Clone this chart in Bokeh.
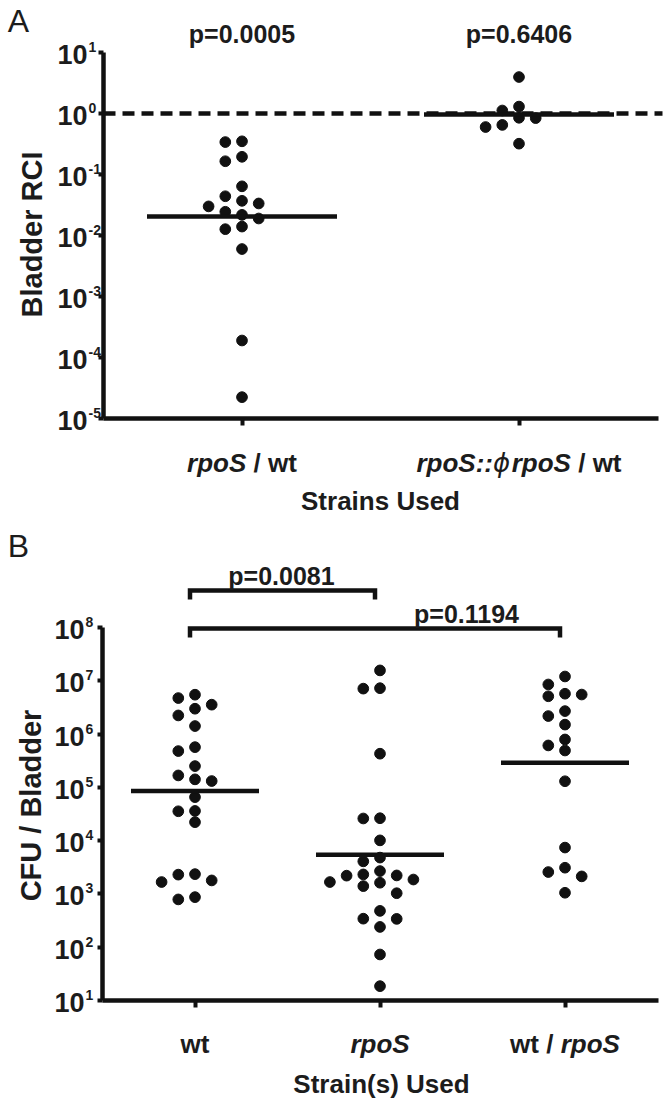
import math
from bokeh.plotting import figure
from bokeh.models import Range1d, FixedTicker, Label
from bokeh.layouts import column
from bokeh.embed import file_html
from bokeh.resources import INLINE

# ---------------- data ----------------
A_categories = ["rpoS / wt", "rpoS::\u03d5rpoS / wt"]
A_tick_labels = [
    [("rpoS", "bold italic"), (" / wt", "bold")],
    [("rpoS::", "bold italic"), ("\u03d5", "italic"), ("rpoS", "bold italic"), (" / wt", "bold")],
]
A_rpoS_wt = [0.35, 0.34, 0.195, 0.165, 0.064, 0.044, 0.037, 0.0335, 0.030,
             0.0245, 0.0218, 0.019, 0.014, 0.0127, 0.006, 1.9e-4, 2.24e-5]
A_complemented = [3.96, 1.30, 1.12, 0.85, 0.84, 0.65, 0.60, 0.32]
A_medians = [0.0205, 0.96]
A_pvalues = ["p=0.0005", "p=0.6406"]
A_reference = 1.0
A_exponents = [-5, -4, -3, -2, -1, 0, 1]
A_xtitle = "Strains Used"
A_ytitle = "Bladder RCI"

B_categories = ["wt", "rpoS", "wt / rpoS"]
B_tick_labels = [
    [("wt", "bold")],
    [("rpoS", "bold italic")],
    [("wt / ", "bold"), ("rpoS", "bold italic")],
]
B_wt = [5.46e6, 4.72e6, 3.55e6, 2.98e6, 2.23e6, 1.41e6, 5.67e5, 4.78e5, 2.5e5,
        1.67e5, 1.41e5, 1.31e5, 6.55e4, 3.6e4, 3.55e4, 2.22e4, 2.35e3, 2.3e3,
        1.79e3, 1.67e3, 8.7e2, 7.88e2]
B_rpoS = [1.56e7, 7.24e6, 7.1e6, 4.27e5, 2.63e4, 2.6e4, 1.01e4, 4.8e3, 4.08e3,
          2.68e3, 2.32e3, 2.22e3, 2.2e3, 1.86e3, 1.67e3, 1.62e3, 1.40e3, 1.03e3,
          4.8e2, 3.43e2, 3.4e2, 2.4e2, 73, 18.6]
B_mixed = [1.2e7, 8.5e6, 5.7e6, 5.5e6, 5.1e6, 2.69e6, 2.17e6, 1.5e6, 7.9e5,
           6.1e5, 4.9e5, 1.3e5, 7.4e3, 3.1e3, 2.57e3, 2.13e3, 1.05e3]
B_medians = [8.5e4, 5.4e3, 2.9e5]
B_comparisons = [(0, 1, "p=0.0081"), (0, 2, "p=0.1194")]
B_exponents = [1, 2, 3, 4, 5, 6, 7, 8]
B_xtitle = "Strain(s) Used"
B_ytitle = "CFU / Bladder"

# ---------------- style ----------------
FONT = "Liberation Sans"
TXT = "#1c1c1c"
INK = "#111111"
W = 666

AW = {' ': 278, '/': 278, ':': 333, 'r': 389, 'p': 611, 'o': 611, 'S': 667,
      'w': 778, 't': 333, '(': 333, ')': 333, 's': 556, 'a': 556, 'i': 278,
      'n': 611, 'U': 722, 'e': 556, 'd': 611, '\u03d5': 720}


def tw(txt, size):
    return sum(AW.get(c, 556) for c in txt) / 1000.0 * size


class Geo:
    """Frame fills the whole figure; axes are placed with fixed_location."""
    def __init__(self, top, height, axis_x, axis_y, unit, ylo, ppd, right_px):
        self.top = top
        self.height = height
        self.axis_x = axis_x
        self.axis_y = axis_y
        self.unit = unit
        self.ylo = ylo
        self.ppd = ppd
        self.x0 = 0.5 - axis_x / unit
        self.x1 = self.x0 + W / unit
        self.ybot = ylo - (top + height - axis_y) / ppd
        self.ytop = self.ybot + height / ppd
        self.xright = 0.5 + (right_px - axis_x) / unit

    def xpx(self, xv):
        return self.axis_x + (xv - 0.5) * unit_safe(self.unit)

    def y(self, ry):
        return 10 ** (self.ylo + (self.axis_y - ry) / self.ppd)

    def ypx(self, v):
        return self.axis_y - (math.log10(v) - self.ylo) * self.ppd


def unit_safe(u):
    return u


def swarm(values, g, step_px=16.7, min_dist=11.0):
    placed = []
    offs = []
    for v in values:
        ypx = math.log10(v) * g.ppd
        col = 0
        for cand in [0, -1, 1, -2, 2, -3, 3, -4, 4]:
            if all(not (c == cand and abs(ypx - yy) < min_dist) for c, yy in placed):
                col = cand
                break
        placed.append((col, ypx))
        offs.append(col * step_px / g.unit)
    return offs


def make_fig(g, exps, nticks):
    p = figure(width=W, height=g.height, x_range=Range1d(g.x0, g.x1),
               y_range=Range1d(10 ** g.ybot, 10 ** g.ytop), y_axis_type="log",
               output_backend="svg", toolbar_location=None,
               min_border_left=0, min_border_right=0,
               min_border_top=0, min_border_bottom=0)
    p.outline_line_color = None
    p.xgrid.visible = False
    p.ygrid.visible = False
    p.background_fill_color = "white"
    for ax in (p.xaxis, p.yaxis):
        ax.axis_line_width = 4.5
        ax.axis_line_color = INK
        ax.major_tick_line_width = 4
        ax.major_tick_line_color = INK
        ax.major_tick_in = 0
        ax.minor_tick_line_color = None
        ax.major_label_text_font_size = "8px"
        ax.major_label_text_alpha = 0.0
    p.xaxis.major_tick_out = 7
    p.yaxis.major_tick_out = 5
    p.yaxis.fixed_location = 0.5
    p.xaxis.fixed_location = 10.0 ** exps[0]
    p.yaxis.bounds = (10.0 ** exps[0], 10.0 ** exps[-1])
    p.xaxis.bounds = (0.5, g.xright)
    p.yaxis.ticker = FixedTicker(ticks=[10.0 ** e for e in exps])
    p.xaxis.ticker = FixedTicker(ticks=list(range(1, nticks + 1)))
    return p


def add_label(p, g, rx, ry, text, size, style="bold", font=FONT, align="center",
              angle=0.0):
    p.add_layout(Label(x=rx, y=ry - g.top, x_units="canvas", y_units="canvas",
                       text=text, text_font=font, text_font_style=style,
                       text_font_size=f"{size}px", text_color=TXT, text_align=align,
                       text_baseline="middle", angle=angle))


def rich(p, g, cx, ry, pieces, size):
    total = sum(tw(t, size) for t, s in pieces)
    x = cx - total / 2.0
    for t, s in pieces:
        lead = len(t) - len(t.lstrip(' '))
        font = "DejaVu Sans" if t.strip() == "\u03d5" else FONT
        add_label(p, g, x + tw(' ' * lead, size), ry, t.strip(), size, style=s,
                  font=font, align="left")
        x += tw(t, size)


def y_ticks(p, g, exps, right_gap):
    for e in exps:
        ty = g.ypx(10 ** e)
        add_label(p, g, g.axis_x - right_gap, ty + 2, "10", 27, align="right")
        add_label(p, g, g.axis_x - right_gap + 1, ty - 5.5, str(e), 14, align="left")


# ---------------- panel A ----------------
gA = Geo(top=0, height=528, axis_x=103, axis_y=418, unit=277.0, ylo=-5, ppd=61.0,
         right_px=658)
pA = make_fig(gA, A_exponents, len(A_categories))

pA.segment(x0=[0.5], x1=[0.5 + (662 - gA.axis_x) / gA.unit], y0=[A_reference],
           y1=[A_reference], line_color=INK, line_width=4.5, line_dash="12 7")

for i, vals in enumerate([A_rpoS_wt, A_complemented]):
    cx = i + 1
    offs = swarm(vals, gA)
    pA.scatter(x=[cx + o for o in offs], y=vals, size=10.7, color=INK)
half = 95.0 / gA.unit
pA.segment(x0=[i + 1 - half for i in range(2)], x1=[i + 1 + half for i in range(2)],
           y0=A_medians, y1=A_medians, line_width=4.5, line_color=INK)

for i, t in enumerate(A_pvalues):
    add_label(pA, gA, gA.xpx(i + 1), 33, t, 25)
for i, pieces in enumerate(A_tick_labels):
    rich(pA, gA, gA.xpx(i + 1), 462, pieces, 26)
add_label(pA, gA, 380, 500, A_xtitle, 26)
add_label(pA, gA, 31, 234, A_ytitle, 29, angle=math.pi / 2)
add_label(pA, gA, 18, 20, "A", 32, style="normal")
y_ticks(pA, gA, A_exponents, 16)

# ---------------- panel B ----------------
gB = Geo(top=528, height=575, axis_x=102, axis_y=1000, unit=185.0, ylo=1, ppd=53.3,
         right_px=658)
pB = make_fig(gB, B_exponents, len(B_categories))

for i, vals in enumerate([B_wt, B_rpoS, B_mixed]):
    cx = i + 1
    offs = swarm(vals, gB)
    pB.scatter(x=[cx + o for o in offs], y=vals, size=10.7, color=INK)
halfB = 64.0 / gB.unit
pB.segment(x0=[i + 1 - halfB for i in range(3)], x1=[i + 1 + halfB for i in range(3)],
           y0=B_medians, y1=B_medians, line_width=4.5, line_color=INK)

shift = -5.0 / gB.unit
label_anchor = [1.5, 2.5]
for k, (a, b, t) in enumerate(B_comparisons):
    level = 590 + 38 * k
    xa, xb = a + 1 + shift, b + 1 + shift
    pB.line(x=[xa, xa, xb, xb],
            y=[gB.y(level + 9), gB.y(level), gB.y(level), gB.y(level + 9)],
            line_width=4.5, line_color=INK, line_join="miter")
    add_label(pB, gB, gB.xpx(label_anchor[k]) - 6, level - 15, t, 25)

for i, pieces in enumerate(B_tick_labels):
    rich(pB, gB, gB.xpx(i + 1), 1043, pieces, 26)
add_label(pB, gB, 381, 1083, B_xtitle, 26)
add_label(pB, gB, 30, 805, B_ytitle, 29, angle=math.pi / 2)
add_label(pB, gB, 18, 545, "B", 32, style="normal")
y_ticks(pB, gB, B_exponents, 18)

layout = column(pA, pB)
open("out.html", "w").write(file_html(layout, INLINE))
